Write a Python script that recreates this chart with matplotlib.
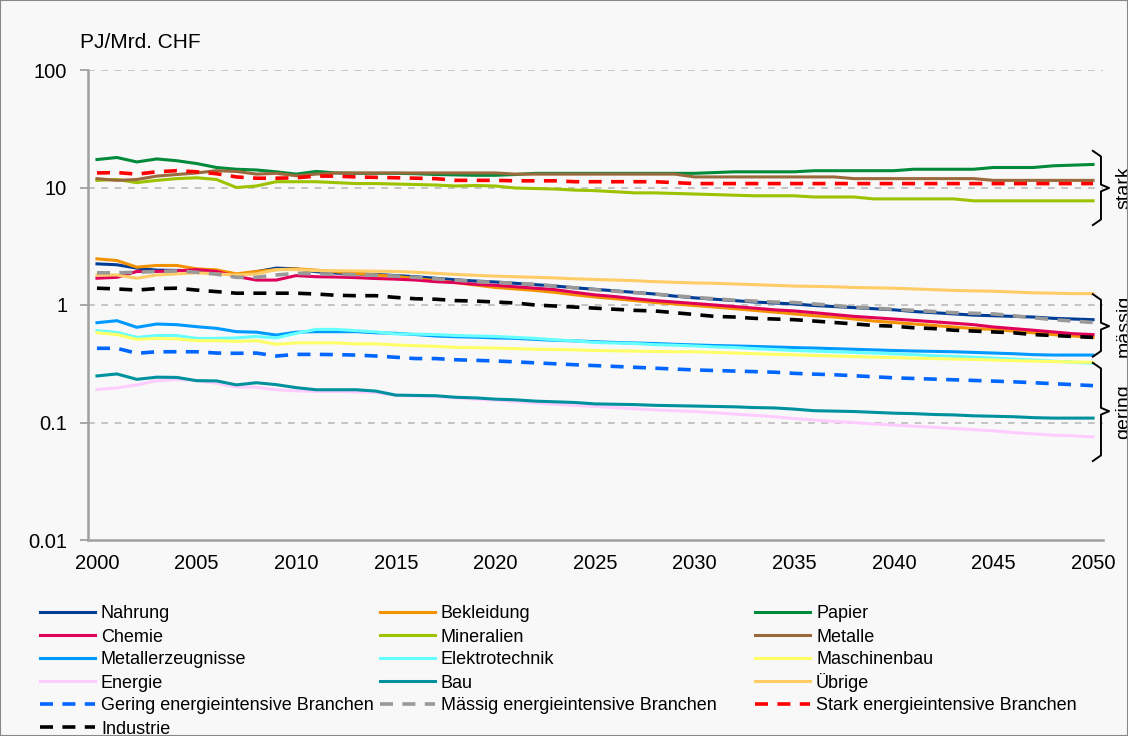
import matplotlib
matplotlib.use("Agg")
import matplotlib.pyplot as plt
from matplotlib.lines import Line2D
from matplotlib.patches import Rectangle

plt.rcParams['font.family'] = ['Liberation Sans', 'DejaVu Sans']

years = list(range(2000, 2051))

# PJ/Mrd. CHF (2000..2050)
nahrung = [2.24, 2.20, 2.06, 1.98, 1.97, 1.95, 1.88, 1.80, 1.92, 2.06,
           2.03, 1.92, 1.87, 1.84, 1.82, 1.78, 1.74, 1.69, 1.64, 1.60,
           1.57, 1.53, 1.49, 1.45, 1.40, 1.36, 1.32, 1.28, 1.24, 1.19,
           1.15, 1.12, 1.09, 1.06, 1.04, 1.02, 0.99, 0.97, 0.95, 0.93,
           0.91, 0.88, 0.86, 0.84, 0.82, 0.81, 0.80, 0.79, 0.77, 0.76, 0.75]
bekleidung = [2.47, 2.39, 2.10, 2.17, 2.17, 2.03, 1.99, 1.84, 1.93, 2.00,
              2.03, 1.98, 1.92, 1.86, 1.80, 1.75, 1.68, 1.61, 1.55, 1.48,
              1.41, 1.37, 1.33, 1.28, 1.22, 1.17, 1.13, 1.09, 1.05, 1.02,
              0.99, 0.96, 0.93, 0.90, 0.87, 0.84, 0.81, 0.79, 0.76, 0.73,
              0.71, 0.69, 0.67, 0.65, 0.63, 0.62, 0.60, 0.58, 0.56, 0.545, 0.53]
papier = [17.3, 18.0, 16.5, 17.5, 16.9, 16.0, 14.8, 14.3, 14.1, 13.6,
          13.0, 13.7, 13.3, 13.2, 13.2, 13.2, 13.1, 12.9, 12.8, 12.7,
          12.7, 12.9, 13.2, 13.2, 13.2, 13.2, 13.2, 13.2, 13.2, 13.2,
          13.2, 13.4, 13.6, 13.6, 13.6, 13.6, 13.9, 13.9, 13.9, 13.9,
          13.9, 14.3, 14.3, 14.3, 14.3, 14.8, 14.8, 14.8, 15.3, 15.5, 15.7]
chemie = [1.69, 1.72, 1.93, 1.93, 1.95, 2.00, 1.93, 1.75, 1.63, 1.63,
          1.78, 1.74, 1.73, 1.71, 1.68, 1.66, 1.63, 1.58, 1.55, 1.50,
          1.47, 1.43, 1.39, 1.35, 1.28, 1.22, 1.18, 1.13, 1.09, 1.06,
          1.03, 1.00, 0.97, 0.94, 0.91, 0.89, 0.86, 0.83, 0.80, 0.78,
          0.76, 0.74, 0.72, 0.70, 0.68, 0.65, 0.63, 0.61, 0.59, 0.57, 0.56]
mineralien = [11.5, 11.7, 11.0, 11.5, 11.9, 12.1, 11.7, 10.0, 10.3, 11.2,
              11.2, 11.2, 11.0, 10.8, 10.8, 10.7, 10.6, 10.5, 10.3, 10.4,
              10.3, 9.9, 9.8, 9.7, 9.5, 9.4, 9.2, 9.0, 9.0, 8.9,
              8.8, 8.7, 8.6, 8.5, 8.5, 8.5, 8.3, 8.3, 8.3, 8.0,
              8.0, 8.0, 8.0, 8.0, 7.7, 7.7, 7.7, 7.7, 7.7, 7.7, 7.7]
metalle = [11.9, 11.5, 11.7, 12.5, 12.9, 13.3, 13.9, 13.7, 13.0, 13.2,
           12.6, 13.0, 13.3, 13.3, 13.3, 13.3, 13.3, 13.3, 13.3, 13.3,
           13.3, 13.0, 13.0, 13.0, 13.0, 13.0, 13.0, 13.0, 13.0, 13.0,
           12.3, 12.3, 12.3, 12.3, 12.3, 12.3, 12.3, 12.3, 11.9, 11.9,
           11.9, 11.9, 11.9, 11.9, 11.9, 11.5, 11.5, 11.5, 11.5, 11.5, 11.5]
metallerz = [0.707, 0.735, 0.646, 0.689, 0.680, 0.654, 0.633, 0.593, 0.587, 0.555,
             0.587, 0.593, 0.593, 0.593, 0.580, 0.574, 0.560, 0.545, 0.537, 0.532,
             0.525, 0.520, 0.510, 0.500, 0.495, 0.487, 0.480, 0.475, 0.470, 0.463,
             0.457, 0.452, 0.448, 0.444, 0.439, 0.434, 0.430, 0.425, 0.420, 0.415,
             0.410, 0.406, 0.403, 0.400, 0.395, 0.390, 0.385, 0.378, 0.375, 0.375, 0.375]
elektro = [0.605, 0.585, 0.530, 0.550, 0.550, 0.520, 0.520, 0.525, 0.540, 0.525,
           0.574, 0.620, 0.620, 0.605, 0.590, 0.567, 0.565, 0.560, 0.550, 0.545,
           0.540, 0.530, 0.520, 0.505, 0.495, 0.480, 0.475, 0.470, 0.460, 0.455,
           0.448, 0.440, 0.435, 0.425, 0.418, 0.410, 0.405, 0.400, 0.395, 0.390,
           0.385, 0.378, 0.370, 0.365, 0.360, 0.353, 0.347, 0.340, 0.333, 0.326, 0.319]
maschinen = [0.581, 0.560, 0.510, 0.520, 0.515, 0.497, 0.497, 0.490, 0.497, 0.463,
             0.476, 0.476, 0.476, 0.467, 0.467, 0.457, 0.450, 0.445, 0.436, 0.433,
             0.430, 0.425, 0.420, 0.418, 0.415, 0.410, 0.407, 0.405, 0.402, 0.400,
             0.400, 0.395, 0.390, 0.385, 0.380, 0.377, 0.372, 0.368, 0.364, 0.360,
             0.357, 0.353, 0.350, 0.347, 0.344, 0.340, 0.336, 0.333, 0.330, 0.327, 0.325]
energie = [0.191, 0.197, 0.209, 0.227, 0.233, 0.227, 0.216, 0.200, 0.200, 0.190,
           0.186, 0.184, 0.184, 0.182, 0.180, 0.170, 0.168, 0.166, 0.162, 0.158,
           0.155, 0.151, 0.147, 0.143, 0.140, 0.137, 0.134, 0.131, 0.128, 0.126,
           0.124, 0.121, 0.118, 0.115, 0.112, 0.108, 0.105, 0.102, 0.100, 0.097,
           0.095, 0.093, 0.091, 0.089, 0.087, 0.085, 0.082, 0.080, 0.078, 0.077, 0.0754]
bau = [0.249, 0.259, 0.233, 0.243, 0.242, 0.227, 0.226, 0.209, 0.218, 0.210,
       0.198, 0.190, 0.190, 0.190, 0.185, 0.171, 0.170, 0.169, 0.164, 0.162,
       0.158, 0.156, 0.152, 0.150, 0.148, 0.144, 0.143, 0.142, 0.140, 0.139,
       0.138, 0.137, 0.136, 0.134, 0.133, 0.130, 0.126, 0.125, 0.124, 0.122,
       0.120, 0.119, 0.117, 0.116, 0.114, 0.113, 0.112, 0.110, 0.109, 0.109, 0.109]
uebrige = [1.80, 1.80, 1.69, 1.80, 1.84, 1.88, 1.84, 1.80, 1.84, 2.00,
           2.00, 1.96, 1.96, 1.95, 1.94, 1.93, 1.90, 1.86, 1.82, 1.79,
           1.76, 1.74, 1.72, 1.70, 1.67, 1.65, 1.63, 1.61, 1.58, 1.56,
           1.54, 1.53, 1.51, 1.49, 1.47, 1.45, 1.44, 1.43, 1.41, 1.40,
           1.39, 1.37, 1.35, 1.33, 1.32, 1.31, 1.29, 1.27, 1.26, 1.25, 1.25]
gering = [0.428, 0.428, 0.388, 0.400, 0.400, 0.400, 0.390, 0.388, 0.390, 0.368,
          0.380, 0.380, 0.378, 0.375, 0.368, 0.359, 0.350, 0.350, 0.342, 0.338,
          0.334, 0.328, 0.322, 0.316, 0.310, 0.305, 0.300, 0.295, 0.290, 0.285,
          0.280, 0.277, 0.274, 0.271, 0.268, 0.262, 0.258, 0.255, 0.250, 0.245,
          0.240, 0.237, 0.234, 0.231, 0.228, 0.225, 0.222, 0.218, 0.214, 0.210, 0.206]
maessig = [1.88, 1.88, 1.90, 1.93, 1.95, 1.90, 1.83, 1.72, 1.72, 1.80,
           1.86, 1.84, 1.83, 1.81, 1.79, 1.76, 1.72, 1.67, 1.63, 1.58,
           1.56, 1.53, 1.50, 1.45, 1.40, 1.35, 1.31, 1.27, 1.24, 1.20,
           1.16, 1.13, 1.10, 1.08, 1.06, 1.05, 1.02, 0.99, 0.96, 0.94,
           0.92, 0.90, 0.88, 0.86, 0.85, 0.84, 0.81, 0.78, 0.75, 0.73, 0.71]
stark = [13.3, 13.4, 13.0, 13.6, 13.9, 13.6, 13.1, 12.3, 12.0, 12.0,
         12.1, 12.5, 12.5, 12.3, 12.2, 12.1, 12.0, 11.9, 11.5, 11.5,
         11.5, 11.4, 11.4, 11.4, 11.2, 11.2, 11.2, 11.2, 11.2, 11.0,
         10.8, 10.8, 10.8, 10.8, 10.8, 10.8, 10.8, 10.8, 10.8, 10.8,
         10.8, 10.8, 10.8, 10.8, 10.8, 10.8, 10.8, 10.8, 10.8, 10.8, 10.8]
industrie = [1.39, 1.37, 1.34, 1.38, 1.39, 1.34, 1.30, 1.26, 1.26, 1.26,
             1.26, 1.24, 1.21, 1.20, 1.20, 1.16, 1.13, 1.12, 1.09, 1.08,
             1.06, 1.04, 1.00, 0.98, 0.96, 0.94, 0.92, 0.90, 0.89, 0.86,
             0.83, 0.80, 0.79, 0.77, 0.76, 0.75, 0.73, 0.71, 0.69, 0.67,
             0.66, 0.64, 0.63, 0.61, 0.60, 0.59, 0.58, 0.56, 0.55, 0.54, 0.53]

series = [
    ("Nahrung", nahrung, "#003d96", "-"),
    ("Bekleidung", bekleidung, "#f39200", "-"),
    ("Papier", papier, "#008a3a", "-"),
    ("Chemie", chemie, "#e0005a", "-"),
    ("Mineralien", mineralien, "#9cc200", "-"),
    ("Metalle", metalle, "#9a6a3c", "-"),
    ("Metallerzeugnisse", metallerz, "#0099ff", "-"),
    ("Elektrotechnik", elektro, "#66ffff", "-"),
    ("Maschinenbau", maschinen, "#ffff66", "-"),
    ("Energie", energie, "#ffccff", "-"),
    ("Bau", bau, "#00919e", "-"),
    ("Übrige", uebrige, "#ffcc66", "-"),
    ("Gering energieintensive Branchen", gering, "#0066ff", "--"),
    ("Mässig energieintensive Branchen", maessig, "#999999", "--"),
    ("Stark energieintensive Branchen", stark, "#ff0000", "--"),
    ("Industrie", industrie, "#000000", "--"),
]

bg = "#f8f8f8"
W, H = 1128, 736
fig = plt.figure(figsize=(W / 100, H / 100), dpi=100, facecolor=bg)
ax = fig.add_axes([88 / W, 1 - 540 / H, 1015 / W, 470 / H])
ax.set_facecolor(bg)


def style(ls):
    if ls == "--":
        return dict(lw=2.6, dashes=(3.6, 2.6))
    return dict(lw=2.2)


for name, vals, col, ls in series:
    ax.plot(years, vals, color=col, label=name, **style(ls))

ax.set_yscale("log")
ax.set_ylim(0.01, 100)
ax.set_xlim(1999.55, 2050.5)
ax.set_yticks([0.01, 0.1, 1, 10, 100])
ax.set_yticklabels(["0.01", "0.1", "1", "10", "100"])
ax.minorticks_off()
ax.set_xticks(range(2000, 2051, 5))
ax.tick_params(axis="both", labelsize=14.5, colors="#000000")
ax.tick_params(axis="y", length=6, width=1.2, color="#999999", pad=9)
ax.tick_params(axis="x", length=0, pad=10)
for y in [0.1, 1, 10, 100]:
    ax.axhline(y, color="#bbbbbb", lw=1.2, dashes=(4, 4), zorder=0)
for s in ["top", "right"]:
    ax.spines[s].set_visible(False)
for s in ["left", "bottom"]:
    ax.spines[s].set_color("#a0a0a0")
    ax.spines[s].set_linewidth(1.8)

# brackets on the right side
groups = [("stark", 0.828, 0.749, 0.670),
          ("mässig", 0.523, 0.455, 0.390),
          ("gering", 0.377, 0.274, 0.168)]
for label, top, mid, bot in groups:
    d = 0.012
    bx = [0.990, 0.998, 0.998, 1.006, 0.998, 0.998, 0.990]
    by = [top, top - d, mid + d * 0.6, mid, mid - d * 0.6, bot + d, bot]
    ax.plot(bx, by, color="black", lw=1.4, transform=ax.transAxes, clip_on=False)
    ax.text(1.0205, mid, label, rotation=90, ha="center", va="center",
            fontsize=14, transform=ax.transAxes)

fig.text(80 / W, 1 - 42 / H, "PJ/Mrd. CHF", fontsize=15, va="center")

# legend, 3 columns filled row by row like the Excel original
cols_x = [40, 380, 755]
for i, (name, vals, col, ls) in enumerate(series):
    r, c = divmod(i, 3)
    x0 = cols_x[c]
    yy = 1 - (612 + 23 * r) / H
    fig.add_artist(Line2D([x0 / W, (x0 + 55) / W], [yy, yy], color=col,
                          transform=fig.transFigure, **style(ls)))
    fig.text((x0 + 61) / W, yy, name, fontsize=13, va="center_baseline")

fig.patches.append(Rectangle((0, 0), 1, 1, transform=fig.transFigure,
                             fill=False, edgecolor="#888888", lw=1.5))

fig.savefig("out.png", dpi=100, facecolor=bg)
